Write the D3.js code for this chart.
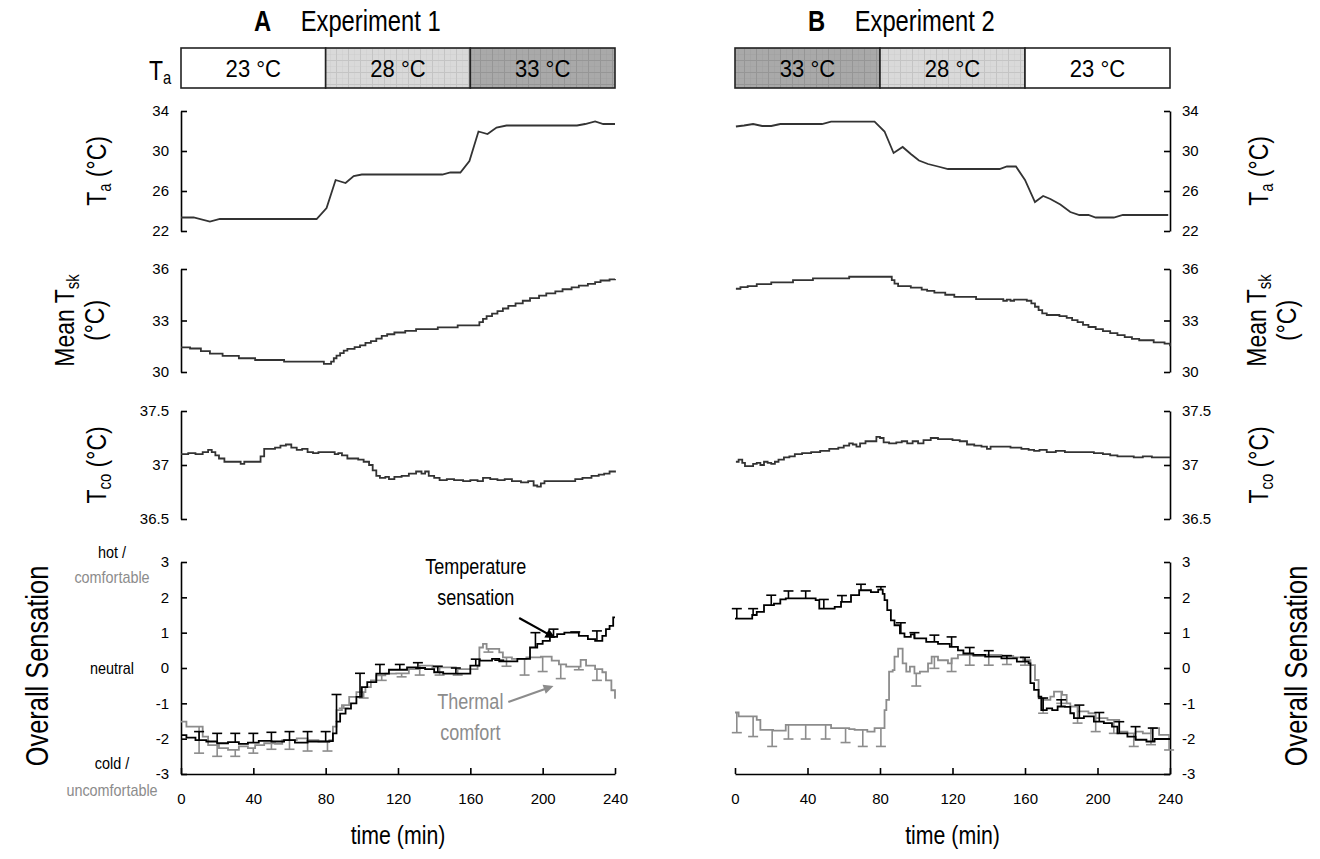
<!DOCTYPE html>
<html>
<head>
<meta charset="utf-8">
<script src="https://cdn.jsdelivr.net/npm/d3@7"></script>
<style>
  body { margin: 0; background: #fff; }
  svg { font-family: Arial, "Liberation Sans", sans-serif; }
  .tick text { font-family: "Liberation Sans Narrow", "Arial Narrow", "Liberation Sans", sans-serif; font-size: 15px; fill: #000; }
  .tick line, .domain { stroke: #000; stroke-width: 1.6; }
</style>
</head>
<body>
<svg id="viz" width="1320" height="859"></svg>
<script>
// time axis & tick values
const timeTicks = [0, 40, 80, 120, 160, 200, 240]
const taTicks = [22, 26, 30, 34]
const tskTicks = [30, 33, 36]
const tcoTicks = [36.5, 37, 37.5]
const senTicks = [-3, -2, -1, 0, 1, 2, 3]

// ambient temperature periods
const periodStart = [0, 80, 160]
const exp1Periods = ["23 °C", "28 °C", "33 °C"]
const exp2Periods = ["33 °C", "28 °C", "23 °C"]
const exp1Shade = [0, 1, 2]
const exp2Shade = [2, 1, 0]

// [time, value]
const exp1Ta = [[0,23.35],[7,23.35],[16,22.95],[21.5,23.2],[75,23.2],[80.5,24.3],[85.5,27.1],[91,26.8],[95.5,27.5],[100,27.65],[144.5,27.65],[149,27.85],[154.5,27.85],[159.5,29.0],[164.5,31.95],[169.5,31.7],[174.5,32.35],[180,32.55],[219,32.55],[223.5,32.7],[229,32.95],[233.5,32.7],[240,32.7]]
const exp2Ta = [[0.5,32.45],[5,32.55],[10,32.7],[15,32.5],[20,32.5],[25,32.7],[48,32.7],[53,32.93],[77,32.93],[82.5,31.95],[87.5,29.8],[92.5,30.4],[97,29.7],[101.5,29.05],[106.5,28.7],[112,28.45],[117.5,28.2],[146,28.2],[150,28.45],[155,28.45],[160,27.1],[165.5,24.9],[170,25.5],[174,25.2],[179.5,24.65],[185,23.9],[190,23.6],[195,23.6],[199,23.35],[209,23.35],[214,23.6],[239,23.6]]

const exp1Tsk = [[0,31.44],[5,31.37],[11,31.22],[16,31.07],[23,30.94],[32,30.8],[41,30.7],[57,30.6],[79,30.47],[83,30.6],[84.5,30.8],[86,30.95],[88,31.1],[90,31.25],[92,31.35],[96,31.45],[99,31.55],[102,31.7],[105,31.8],[108,31.95],[111,32.1],[114,32.2],[118,32.3],[124,32.4],[130,32.5],[142,32.6],[153,32.72],[163,32.72],[165,32.9],[167,33.1],[169,33.25],[172,33.4],[175,33.55],[178,33.7],[181,33.85],[185,34.0],[189,34.15],[193,34.3],[198,34.45],[202,34.58],[207,34.7],[211,34.82],[216,34.93],[220,35.03],[225,35.13],[229,35.23],[232,35.33],[237,35.4],[240,35.42]]
const exp2Tsk = [[0.5,34.85],[3,34.95],[7,35.0],[12,35.12],[20,35.22],[32,35.35],[43,35.45],[63,35.55],[85,35.55],[86.5,35.35],[88,35.15],[90,35.0],[97,34.92],[103,34.8],[106,34.72],[110,34.62],[116,34.5],[121,34.38],[133,34.25],[148,34.15],[150,34.22],[152,34.15],[154,34.22],[161,34.15],[163.5,34.0],[165.5,33.8],[167.5,33.6],[169.5,33.42],[172,33.32],[179,33.25],[183,33.15],[186,33.02],[189,32.9],[192,32.75],[195,32.62],[199,32.5],[203,32.38],[207,32.27],[211,32.15],[215,32.03],[219,31.93],[223,31.85],[231,31.72],[237,31.65],[240,31.5]]

const exp1Tco = [[0,37.10],[4,37.11],[8,37.10],[12,37.12],[15,37.14],[17,37.12],[19,37.09],[21,37.06],[24,37.03],[30,37.03],[33,37.01],[35,37.03],[42,37.03],[44,37.08],[46,37.15],[49,37.15],[52,37.16],[55,37.18],[58,37.19],[61,37.16],[64,37.14],[67,37.15],[70,37.12],[73,37.11],[76,37.12],[82,37.12],[85,37.10],[87,37.11],[89,37.09],[92,37.06],[98,37.05],[101,37.03],[104,37.0],[106,36.95],[108,36.9],[110,36.88],[113,36.89],[115,36.87],[118,36.89],[122,36.9],[126,36.92],[130,36.94],[133,36.92],[135,36.94],[137,36.9],[140,36.88],[143,36.86],[147,36.87],[151,36.86],[156,36.85],[160,36.86],[164,36.85],[167,36.88],[171,36.87],[175,36.86],[179,36.87],[183,36.85],[188,36.84],[192,36.85],[195,36.81],[197,36.8],[199,36.83],[201,36.85],[206,36.85],[214,36.85],[218,36.87],[222,36.88],[227,36.9],[231,36.91],[234,36.92],[237,36.94],[240,36.95]]
const exp2Tco = [[0.5,37.03],[2,37.05],[4,37.02],[5.5,36.99],[8,36.99],[10,37.01],[12,37.02],[14,37.0],[16,37.03],[18,37.02],[20,37.01],[22,37.03],[24,37.05],[27,37.07],[30,37.08],[33,37.1],[37,37.11],[42,37.12],[47,37.13],[52,37.15],[57,37.16],[60,37.18],[63,37.2],[65,37.19],[67,37.17],[69,37.2],[72,37.22],[76,37.22],[78,37.26],[80,37.25],[82,37.21],[85,37.2],[89,37.21],[92,37.22],[95,37.2],[98,37.22],[101,37.2],[104,37.23],[108,37.25],[112,37.24],[116,37.24],[120,37.23],[124,37.22],[128,37.19],[132,37.18],[136,37.17],[139,37.15],[141,37.17],[146,37.17],[152,37.16],[158,37.15],[162,37.14],[165,37.13],[168,37.14],[172,37.12],[177,37.13],[182,37.12],[192,37.12],[198,37.11],[203,37.1],[207,37.09],[211,37.08],[216,37.08],[220,37.07],[225,37.08],[230,37.07],[240,37.07]]

// overall sensation: temperature sensation (black) and thermal comfort (gray)
const exp1Temp = [[0,-1.9],[3,-1.97],[8,-2.04],[14,-2.08],[20,-2.13],[26,-2.1],[32,-2.15],[37,-2.11],[43,-2.06],[50,-2.08],[57,-2.04],[63,-2.11],[70,-2.08],[82,-2.07],[84,-1.85],[86,-1.52],[88,-1.29],[91,-1.15],[94,-1.0],[97,-0.82],[100,-0.54],[103,-0.4],[108,-0.16],[115,-0.05],[125,0.02],[130,0.0],[135,-0.03],[140,-0.12],[145,-0.16],[160,0.07],[165,0.21],[172,0.26],[176,0.19],[186,0.26],[193,0.58],[197,0.68],[200,0.77],[204,0.88],[208,0.96],[212,1.0],[220,0.91],[225,0.82],[229,0.77],[233,0.91],[235,1.1],[237,1.19],[239,1.43],[240,1.43]]
const exp1TempErr = [[10,-1.8],[20,-1.85],[30,-1.85],[40,-1.85],[50,-1.82],[60,-1.8],[70,-1.8],[80,-1.8],[86,-0.75],[99,-0.15],[110,0.1],[121,0.1],[131,0.15],[142,0.05],[152,0.0],[163,0.25],[176,0.22],[196,1.0],[206,1.1],[218,1.02],[230,1.05]]
const exp1Comf = [[0,-1.52],[3,-1.66],[12,-1.94],[15,-2.18],[21,-2.27],[26,-2.32],[32,-2.22],[37,-2.27],[41,-2.18],[46,-2.13],[52,-2.15],[56,-2.04],[64,-1.99],[70,-2.04],[76,-2.08],[82,-2.04],[84,-1.66],[86,-1.19],[89,-1.05],[93,-0.82],[97,-0.68],[102,-0.54],[105,-0.35],[108,-0.21],[113,-0.16],[119,-0.15],[126,-0.03],[132,0.07],[139,0.02],[152,-0.03],[164,0.07],[165,0.58],[167,0.68],[169,0.54],[176,0.44],[178,0.3],[183,0.26],[191,0.3],[199,0.32],[205,0.21],[209,0.1],[213,0.04],[221,0.23],[224,0.07],[229,-0.03],[233,-0.12],[235,-0.35],[238,-0.63],[240,-0.87]]
const exp1ComfErr = [[10,-2.41],[20,-2.5],[30,-2.5],[40,-2.41],[50,-2.3],[60,-2.3],[70,-2.35],[81,-2.35],[90,-1.14],[101,-0.85],[111,-0.35],[122,-0.25],[132,-0.2],[143,-0.2],[153,-0.2],[170,0.45],[180,0.05],[190,-0.2],[200,-0.1],[210,-0.3],[220,-0.05],[230,-0.35]]

const exp2Temp = [[0,1.4],[9.5,1.5],[12,1.59],[16,1.78],[21.5,1.82],[25,1.94],[28,1.97],[44.5,1.92],[46.5,1.68],[55,1.73],[58.5,1.87],[64,2.06],[68.5,2.2],[75,2.15],[79,2.22],[81.5,2.1],[82.5,1.92],[84,1.64],[86,1.35],[88,1.21],[91,0.98],[93.5,0.88],[97,0.95],[99,0.84],[105.5,0.74],[112,0.68],[118.5,0.6],[123,0.5],[126,0.41],[131.5,0.37],[138,0.32],[147,0.27],[155.5,0.18],[162,0.13],[163,-0.43],[165,-0.62],[167.5,-0.81],[169,-1.19],[172,-1.14],[175,-1.19],[178,-1.09],[182,-1.1],[185,-1.28],[187,-1.42],[192.5,-1.37],[198,-1.52],[203.5,-1.56],[208,-1.66],[211,-1.85],[216.5,-1.94],[221,-2.03],[227,-2.08],[231.5,-2.01],[240,-2.01]]
const exp2TempErr = [[1,1.68],[10,1.68],[20,2.06],[29.5,2.18],[39,2.18],[49,1.94],[59,2.05],[69.5,2.37],[80.5,2.3],[91.5,1.28],[99,1.0],[110,0.93],[119.5,0.88],[129.5,0.58],[140,0.49],[150,0.35],[160,0.3],[170,-0.85],[180,-0.9],[190,-1.05],[201,-1.26],[212,-1.52],[221,-1.66],[230.5,-1.7]]
const exp2Comf = [[0,-1.26],[2,-1.37],[10,-1.37],[12,-1.47],[14,-1.75],[21,-1.77],[28,-1.61],[51,-1.61],[53,-1.7],[63,-1.73],[66,-1.75],[73,-1.8],[77,-1.7],[81,-1.7],[82.5,-1.19],[83.5,-0.9],[85,-0.1],[87,-0.06],[88,0.32],[90,0.55],[92.5,0.13],[94.5,-0.1],[96.5,0.04],[99,-0.15],[102,-0.1],[106.5,0.13],[108.5,0.32],[112,0.22],[117.5,0.13],[119.5,0.27],[123,0.37],[131.5,0.34],[138,0.37],[147,0.34],[153.5,0.3],[159,0.22],[163,0.08],[165.5,-0.34],[167.5,-0.86],[171,-0.9],[174,-0.81],[176,-0.67],[180.5,-0.76],[183,-1.0],[185,-1.09],[189,-1.23],[195,-1.28],[199,-1.42],[205.5,-1.47],[212,-1.8],[216.5,-1.85],[221,-1.8],[225,-1.85],[229.5,-1.7],[234,-1.89],[240,-1.89]]
const exp2ComfErr = [[1,-1.83],[10,-1.94],[20.5,-2.22],[29.5,-2.01],[39,-2.01],[50,-2.01],[61,-2.11],[70.5,-2.22],[80.5,-2.22],[100,-0.51],[110,-0.01],[119.5,-0.1],[129.5,0.08],[140,0.08],[150,0.1],[160,0.08],[170,-1.28],[180,-1.0],[189,-1.56],[199,-1.8],[209,-1.85],[220,-2.22],[229.5,-2.17],[239.5,-2.32]]

const lineCol = "#333", tempCol = "#000", comfCol = "#8c8c8c"
const narrow = 0.82

var svg = d3.select("#viz")

// scales
var xA = d3.scaleLinear().domain([0, 240]).range([181, 615])
var xB = d3.scaleLinear().domain([0, 240]).range([735, 1170])
var yTa = d3.scaleLinear().domain([22, 34]).range([231, 111])
var yTsk = d3.scaleLinear().domain([30, 36]).range([372, 269])
var yTco = d3.scaleLinear().domain([36.5, 37.5]).range([519, 411])
var ySen = d3.scaleLinear().domain([-3, 3]).range([774, 562])

// grid patterns for the Ta bar
var defs = svg.append("defs")
var shades = [["#ffffff", "#ffffff"], ["#d9d9d9", "#c4c4c4"], ["#a9a9a9", "#969696"]]
shades.forEach((s, i) => {
    let p = defs.append("pattern").attr("id", "pat" + i)
        .attr("patternUnits", "userSpaceOnUse").attr("width", 12).attr("height", 12)
    p.append("rect").attr("width", 12).attr("height", 12).attr("fill", s[0])
    if (i > 0) {
        p.append("path").attr("d", "M0,0.5H12M0.5,0V12").attr("stroke", s[1]).attr("stroke-width", 1)
        p.append("path").attr("d", "M0,6.5H12M6.5,0V12").attr("stroke", s[1]).attr("stroke-width", 0.5).attr("opacity", 0.6)
    }
})

function periodBar(x, labels, shade) {
    let g = svg.append("g")
    g.selectAll("rect").data(periodStart).join("rect")
        .attr("x", d => x(d)).attr("y", 48)
        .attr("width", d => x(d + 80) - x(d)).attr("height", 40)
        .attr("fill", (d, i) => "url(#pat" + shade[i] + ")")
        .attr("stroke", "#222").attr("stroke-width", 1.6)
    g.selectAll("text").data(periodStart).join("text")
        .attr("transform", d => `translate(${x(d + 40)},77) scale(0.92,1)`)
        .attr("text-anchor", "middle").attr("font-size", 24)
        .text((d, i) => labels[i])
}
periodBar(xA, exp1Periods, exp1Shade)
periodBar(xB, exp2Periods, exp2Shade)

// titles
function title(x, letter, txt) {
    let t = svg.append("text").attr("transform", `translate(${x},31) scale(${narrow},1)`).attr("font-size", 29)
    t.append("tspan").attr("font-weight", "bold").text(letter)
    t.append("tspan").attr("dx", 36).text(txt)
}
title(254, "A", "Experiment 1")
title(808, "B", "Experiment 2")
var taLab = svg.append("text").attr("transform", `translate(149,80) scale(${narrow},1)`).attr("font-size", 28)
taLab.append("tspan").text("T")
taLab.append("tspan").attr("font-size", 18).attr("dy", 4).text("a")

// axes
function yAxis(y, ticks, side, x) {
    let ax = side == "left" ? d3.axisLeft(y) : d3.axisRight(y)
    ax.tickValues(ticks).tickSizeInner(-6).tickSizeOuter(0).tickPadding(12).tickFormat(d => String(d))
    svg.append("g").attr("transform", `translate(${x},0)`).call(ax)
}
[[yTa, taTicks], [yTsk, tskTicks], [yTco, tcoTicks], [ySen, senTicks]].forEach(a => {
    yAxis(a[0], a[1], "left", xA.range()[0])
    yAxis(a[0], a[1], "right", xB.range()[1])
})
function xAxis(x) {
    let ax = d3.axisBottom(x).tickValues(timeTicks).tickSizeInner(-6).tickSizeOuter(0).tickPadding(19)
    svg.append("g").attr("transform", `translate(0,${ySen.range()[0]})`).call(ax)
    svg.append("text").attr("transform", `translate(${(x.range()[0] + x.range()[1]) / 2},844) scale(${narrow},1)`)
        .attr("text-anchor", "middle").attr("font-size", 26).text("time (min)")
}
xAxis(xA)
xAxis(xB)

// lines
function drawLine(x, y, data, col, w, curve) {
    let line = d3.line().x(d => x(d[0])).y(d => y(d[1])).curve(curve)
    svg.append("path").datum(data).attr("d", line)
        .attr("fill", "none").attr("stroke", col).attr("stroke-width", w)
}
drawLine(xA, yTa, exp1Ta, lineCol, 1.8, d3.curveLinear)
drawLine(xB, yTa, exp2Ta, lineCol, 1.8, d3.curveLinear)
drawLine(xA, yTsk, exp1Tsk, lineCol, 1.8, d3.curveStepAfter)
drawLine(xB, yTsk, exp2Tsk, lineCol, 1.8, d3.curveStepAfter)
drawLine(xA, yTco, exp1Tco, lineCol, 1.8, d3.curveStepAfter)
drawLine(xB, yTco, exp2Tco, lineCol, 1.8, d3.curveStepAfter)

// error bars: from series value at t to the cap value
var bis = d3.bisector(d => d[0]).right
function errBars(x, data, errs, col) {
    let g = svg.append("g").attr("stroke", col).attr("stroke-width", 1.6)
    errs.forEach(e => {
        let i = Math.max(0, bis(data, e[0]) - 1)
        let v = data[i][1]
        g.append("line").attr("x1", x(e[0])).attr("x2", x(e[0]))
            .attr("y1", ySen(v)).attr("y2", ySen(e[1]))
        g.append("line").attr("x1", x(e[0]) - 5).attr("x2", x(e[0]) + 5)
            .attr("y1", ySen(e[1])).attr("y2", ySen(e[1]))
    })
}
errBars(xA, exp1Comf, exp1ComfErr, comfCol)
errBars(xB, exp2Comf, exp2ComfErr, comfCol)
drawLine(xA, ySen, exp1Comf, comfCol, 1.8, d3.curveStepAfter)
drawLine(xB, ySen, exp2Comf, comfCol, 1.8, d3.curveStepAfter)
errBars(xA, exp1Temp, exp1TempErr, tempCol)
errBars(xB, exp2Temp, exp2TempErr, tempCol)
drawLine(xA, ySen, exp1Temp, tempCol, 1.8, d3.curveStepAfter)
drawLine(xB, ySen, exp2Temp, tempCol, 1.8, d3.curveStepAfter)

// y axis titles (rotated, narrowed along the baseline)
function vLabel(x, y, parts, size) {
    let t = svg.append("text").attr("transform", `translate(${x},${y}) rotate(-90) scale(${narrow},1)`)
        .attr("text-anchor", "middle").attr("font-size", size)
    parts.forEach(p => {
        let s = t.append("tspan").text(p[0])
        if (p[1]) s.attr("font-size", size * 0.65).attr("dy", 5)
        if (p[2]) s.attr("dy", -5)
    })
}
vLabel(106, yTa(28), [["T"], ["a", 1], [" (°C)", 0, 1]], 28)
vLabel(1268, yTa(28), [["T"], ["a", 1], [" (°C)", 0, 1]], 28)
vLabel(106, yTco(37), [["T"], ["co", 1], [" (°C)", 0, 1]], 28)
vLabel(1268, yTco(37), [["T"], ["co", 1], [" (°C)", 0, 1]], 28)
vLabel(74, yTsk(33), [["Mean T"], ["sk", 1]], 28)
vLabel(104, yTsk(33), [["(°C)"]], 28)
vLabel(1266, yTsk(33), [["Mean T"], ["sk", 1]], 28)
vLabel(1296, yTsk(33), [["(°C)"]], 28)
vLabel(48, ySen(0) - 2, [["Overall Sensation"]], 31)
vLabel(1307, ySen(0) - 2, [["Overall Sensation"]], 31)

// scale anchors on the left sensation axis
var anchors = [["hot /", 3, "#000", -4], ["comfortable", 3, comfCol, 21], ["neutral", 0, "#000", 6],
    ["cold /", -3, "#000", -5], ["uncomfortable", -3, comfCol, 22]]
svg.append("g").selectAll("text").data(anchors).join("text")
    .attr("transform", d => `translate(112,${ySen(d[1]) + d[3]}) scale(0.9,1)`)
    .attr("text-anchor", "middle").attr("font-size", 16).attr("fill", d => d[2])
    .text(d => d[0])

// annotations
function note(lines, x, y, col, arrow) {
    svg.append("g").selectAll("text").data(lines).join("text")
        .attr("transform", (d, i) => `translate(${x},${y + i * 31}) scale(${narrow},1)`)
        .attr("text-anchor", "middle")
        .attr("font-size", 22).attr("fill", col).text(d => d)
    let [x1, y1, x2, y2] = arrow
    let a = Math.atan2(y2 - y1, x2 - x1)
    svg.append("line").attr("x1", x1).attr("y1", y1).attr("x2", x2 - 6 * Math.cos(a)).attr("y2", y2 - 6 * Math.sin(a))
        .attr("stroke", col).attr("stroke-width", 2.2)
    let h = 11, w = 0.45
    svg.append("path")
        .attr("d", `M${x2},${y2}L${x2 - h * Math.cos(a - w)},${y2 - h * Math.sin(a - w)}L${x2 - h * Math.cos(a + w)},${y2 - h * Math.sin(a + w)}Z`)
        .attr("fill", col)
}
note(["Temperature", "sensation"], xA(163), 574, "#000", [xA(187), 618, xA(207), 638])
note(["Thermal", "comfort"], xA(160), 709, comfCol, [xA(181), 702, xA(206), 686])
</script>
</body>
</html>
